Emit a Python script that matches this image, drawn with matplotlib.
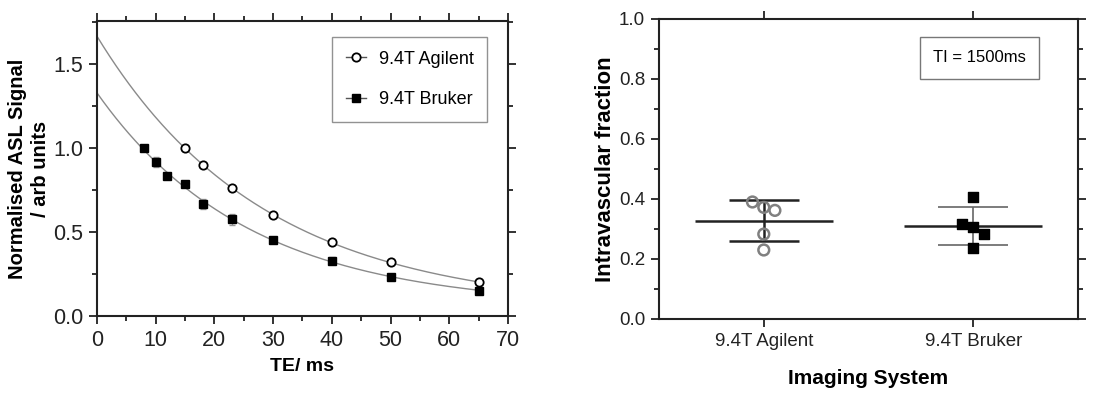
import numpy as np
import matplotlib
matplotlib.use("Agg")
import matplotlib.pyplot as plt
from matplotlib.lines import Line2D
from matplotlib.ticker import MultipleLocator

plt.rcParams['font.family'] = ['Liberation Sans', 'DejaVu Sans']

# ---- Left panel data ----
te_agilent = [15, 18, 23, 30, 40, 50, 65]
sig_agilent = [1.00, 0.90, 0.76, 0.60, 0.44, 0.32, 0.20]
err_agilent = [0.008, 0.008, 0.008, 0.008, 0.008, 0.008, 0.008]

te_bruker = [8, 10, 12, 15, 18, 23, 30, 40, 50, 65]
sig_bruker = [1.00, 0.915, 0.835, 0.785, 0.665, 0.575, 0.455, 0.33, 0.235, 0.148]
err_bruker = [0.01, 0.03, 0.015, 0.01, 0.03, 0.035, 0.015, 0.02, 0.01, 0.01]

# ---- Right panel data ----
systems = ["9.4T Agilent", "9.4T Bruker"]
ivf_agilent = [0.39, 0.372, 0.362, 0.283, 0.230]
jit_agilent = [-0.054, 0.0, 0.053, 0.0, 0.0]
ivf_bruker = [0.405, 0.315, 0.308, 0.283, 0.235]
jit_bruker = [0.0, -0.054, 0.0, 0.05, 0.0]
mean_ivf = [0.328, 0.310]
sd_ivf = [0.068, 0.062]


def fit_exp(t, s):
    t = np.asarray(t, float)
    s = np.asarray(s, float)
    best = None
    for T in np.linspace(10, 60, 501):
        M = np.column_stack([np.exp(-t / T), np.ones_like(t)])
        coef, *_ = np.linalg.lstsq(M, s, rcond=None)
        r = np.sum((M @ coef - s) ** 2)
        if best is None or r < best[0]:
            best = (r, T, coef)
    _, T, (A, C) = best
    return lambda x: A * np.exp(-x / T) + C


fig = plt.figure(figsize=(11.11, 3.94), dpi=100)
ax1 = fig.add_axes([0.0873, 0.198, 0.3699, 0.7487])
ax2 = fig.add_axes([0.5932, 0.1904, 0.3771, 0.7614])

curve_col = '#8a8a8a'
tt = np.linspace(0, 65, 300)
fa = fit_exp(te_agilent, sig_agilent)
fb = fit_exp(te_bruker, sig_bruker)
ax1.plot(tt, fa(tt), color=curve_col, lw=1.0, zorder=1)
ax1.plot(tt, fb(tt), color=curve_col, lw=1.0, zorder=1)
ax1.errorbar(te_agilent, sig_agilent, yerr=err_agilent, fmt='o', ms=6,
             mfc='white', mec='black', mew=1.3, ecolor='#999999', elinewidth=1,
             capsize=2, zorder=3)
ax1.errorbar(te_bruker, sig_bruker, yerr=err_bruker, fmt='s', ms=6,
             mfc='black', mec='black', ecolor='#999999', elinewidth=1,
             capsize=2, zorder=3)
ax1.set_xlim(0, 70)
ax1.set_ylim(0, 1.756)
ax1.xaxis.set_major_locator(MultipleLocator(10))
ax1.xaxis.set_minor_locator(MultipleLocator(5))
ax1.yaxis.set_major_locator(MultipleLocator(0.5))
ax1.yaxis.set_minor_locator(MultipleLocator(0.25))
ax1.yaxis.set_major_formatter(matplotlib.ticker.FormatStrFormatter('%.1f'))
ax1.set_xlabel("TE/ ms", fontsize=14, fontweight='bold', labelpad=5)
ax1.set_ylabel("Normalised ASL Signal\n/ arb units", fontsize=14.5,
               fontweight='bold', labelpad=2, linespacing=1.3)

handles = [
    Line2D([], [], color='#555555', lw=1, marker='o', ms=6, mfc='white',
           mec='black', mew=1.3),
    Line2D([], [], color='#555555', lw=1, marker='s', ms=6, mfc='black',
           mec='black'),
]
leg = ax1.legend(handles, ["9.4T Agilent", "9.4T Bruker"], loc='upper right',
                 bbox_to_anchor=(0.95, 0.945), fontsize=13, frameon=True,
                 fancybox=False, edgecolor='#777777', handlelength=1.15,
                 labelspacing=1.3, borderpad=0.75, handletextpad=0.7,
                 borderaxespad=0)
leg.get_frame().set_linewidth(1.0)

# Right panel
xpos = np.array([1, 2])
ax2.scatter(xpos[0] + np.array(jit_agilent), ivf_agilent, s=60, marker='o',
            facecolors='none', edgecolors='#808080', linewidths=1.8, zorder=3)
ax2.scatter(xpos[1] + np.array(jit_bruker), ivf_bruker, s=60, marker='s',
            facecolors='black', edgecolors='black', zorder=3)
# Agilent mean/SD (thick black)
ax2.hlines(mean_ivf[0], xpos[0] - 0.33, xpos[0] + 0.33, color='#222222', lw=1.8, zorder=2)
ax2.hlines([mean_ivf[0] - sd_ivf[0], mean_ivf[0] + sd_ivf[0]], xpos[0] - 0.167,
           xpos[0] + 0.167, color='#222222', lw=1.8, zorder=2)
ax2.vlines(xpos[0], mean_ivf[0] - sd_ivf[0], mean_ivf[0] + sd_ivf[0],
           color='#222222', lw=1.8, zorder=2)
# Bruker mean (thick) / SD (thin gray)
ax2.hlines(mean_ivf[1], xpos[1] - 0.33, xpos[1] + 0.33, color='#222222', lw=1.8, zorder=2)
ax2.hlines([mean_ivf[1] - sd_ivf[1], mean_ivf[1] + sd_ivf[1]], xpos[1] - 0.167,
           xpos[1] + 0.167, color='#666666', lw=1.2, zorder=2)
ax2.vlines(xpos[1], mean_ivf[1] - sd_ivf[1], mean_ivf[1] + sd_ivf[1],
           color='#666666', lw=1.2, zorder=2)

ax2.set_xlim(0.5, 2.5)
ax2.set_ylim(0, 1.0)
ax2.set_xticks(xpos)
ax2.set_xticklabels(systems)
ax2.yaxis.set_major_locator(MultipleLocator(0.2))
ax2.yaxis.set_minor_locator(MultipleLocator(0.1))
ax2.yaxis.set_major_formatter(matplotlib.ticker.FormatStrFormatter('%.1f'))
ax2.set_xlabel("Imaging System", fontsize=15, fontweight='bold', labelpad=14)
ax2.set_ylabel("Intravascular fraction", fontsize=16, fontweight='bold', labelpad=2)
ax2.text(0.765, 0.87, "TI = 1500ms", transform=ax2.transAxes, ha='center',
         va='center', fontsize=12,
         bbox=dict(boxstyle='square,pad=0.8', fc='white', ec='#777777', lw=1.0))

for ax, lsize in ((ax1, 15.5), (ax2, 13.5)):
    for sp in ax.spines.values():
        sp.set_linewidth(1.5)
        sp.set_color('#222222')
    ax.tick_params(which='both', direction='out', top=True, right=True,
                   color='#222222', width=1.3)
    ax.tick_params(which='major', length=6, labelsize=lsize, colors='#222222',
                   labelcolor='#222222', pad=4)
    ax.tick_params(which='minor', length=3.5)

fig.savefig("out.png", dpi=100)
